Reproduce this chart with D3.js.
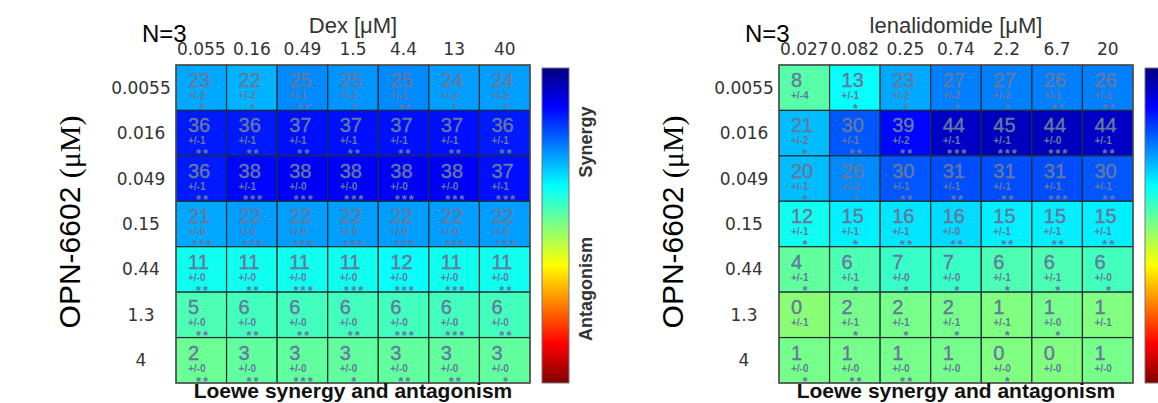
<!DOCTYPE html>
<html>
<head>
<meta charset="utf-8">
<script src="https://cdn.jsdelivr.net/npm/d3@7"></script>
<style>
  body { margin: 0; background: #fff; }
  svg { display: block; font-family: "Liberation Sans", Arial, sans-serif; }
</style>
</head>
<body>
<div class="chart"></div>
<script>
const WIDTH = 1158;
const HEIGHT = 403;

// row doses (shared)
const OPN_DOSES = ["0.0055", "0.016", "0.049", "0.15", "0.44", "1.3", "4"];

// left panel: Dex
const DEX_DOSES = ["0.055", "0.16", "0.49", "1.5", "4.4", "13", "40"];
const DEX_SCORES = [
  [23, 22, 25, 25, 25, 24, 24],
  [36, 36, 37, 37, 37, 37, 36],
  [36, 38, 38, 38, 38, 38, 37],
  [21, 22, 22, 22, 22, 22, 22],
  [11, 11, 11, 11, 12, 11, 11],
  [5, 6, 6, 6, 6, 6, 6],
  [2, 3, 3, 3, 3, 3, 3]
];
const DEX_ERR = [
  [2, 2, 1, 2, 1, 2, 2],
  [1, 1, 1, 1, 1, 1, 1],
  [1, 1, 0, 0, 0, 0, 1],
  [0, 0, 0, 0, 0, 0, 0],
  [0, 0, 0, 0, 0, 0, 0],
  [0, 0, 0, 0, 0, 0, 0],
  [0, 0, 0, 0, 0, 0, 0]
];
const DEX_STARS = [
  [1, 1, 2, 1, 2, 1, 1],
  [2, 2, 2, 2, 2, 2, 2],
  [2, 3, 3, 3, 3, 3, 3],
  [3, 3, 3, 3, 3, 3, 3],
  [2, 2, 3, 3, 3, 3, 2],
  [2, 2, 2, 2, 3, 3, 2],
  [2, 2, 3, 1, 2, 2, 1]
];

// right panel: lenalidomide
const LEN_DOSES = ["0.027", "0.082", "0.25", "0.74", "2.2", "6.7", "20"];
const LEN_SCORES = [
  [8, 13, 23, 27, 27, 26, 26],
  [21, 30, 39, 44, 45, 44, 44],
  [20, 26, 30, 31, 31, 31, 30],
  [12, 15, 16, 16, 15, 15, 15],
  [4, 6, 7, 7, 6, 6, 6],
  [0, 2, 2, 2, 1, 1, 1],
  [1, 1, 1, 1, 0, 0, 1]
];
const LEN_ERR = [
  [4, 1, 2, 2, 2, 1, 1],
  [2, 1, 2, 1, 1, 0, 1],
  [1, 2, 1, 1, 1, 1, 1],
  [1, 1, 1, 0, 1, 1, 1],
  [1, 1, 0, 0, 1, 1, 0],
  [1, 1, 1, 1, 1, 0, 1],
  [0, 0, 0, 0, 0, 0, 0]
];
const LEN_STARS = [
  [0, 1, 1, 1, 1, 2, 2],
  [1, 2, 2, 3, 3, 3, 2],
  [1, 1, 2, 2, 2, 3, 2],
  [1, 1, 2, 2, 2, 2, 2],
  [1, 1, 1, 1, 1, 1, 1],
  [0, 1, 1, 1, 1, 1, 0],
  [1, 2, 2, 0, 1, 0, 0]
];

const COLOR_DOMAIN = [50, 37.5, 12.5, 0, -12.5, -37.5, -50];
const JET = ["#000080", "#0000ff", "#00ffff", "#80ff80", "#ffff00", "#ff0000", "#800000"];
const TEXT_COLOR = "#66789e";
const TICK_FONT = "DejaVu Sans, Verdana, sans-serif";

const svg = d3.select(".chart").append("svg")
  .attr("width", WIDTH)
  .attr("height", HEIGHT);

const COLOR = d3.scaleLinear().domain(COLOR_DOMAIN).range(JET).clamp(true);

// gradient for the colour bars
const grad = svg.append("defs").append("linearGradient")
  .attr("id", "jet")
  .attr("x1", 0).attr("y1", 0).attr("x2", 0).attr("y2", 1);
grad.selectAll("stop")
  .data(COLOR_DOMAIN)
  .enter().append("stop")
    .attr("offset", d => (50 - d) / 100)
    .attr("stop-color", d => COLOR(d));

function drawPanel(left, drug, doses, scores, errs, stars) {
  const top = 65, w = 354, h = 318;
  const g = svg.append("g");

  const X = d3.scaleBand().domain(doses).range([left, left + w]);
  const Y = d3.scaleBand().domain(OPN_DOSES).range([top, top + h]);

  const cells = [];
  OPN_DOSES.forEach((r, i) => doses.forEach((c, j) => {
    cells.push({row: r, col: c, v: scores[i][j], e: errs[i][j], s: stars[i][j]});
  }));

  g.selectAll("rect.cell")
    .data(cells)
    .enter().append("rect")
      .attr("class", "cell")
      .attr("x", d => X(d.col))
      .attr("y", d => Y(d.row))
      .attr("width", X.bandwidth())
      .attr("height", Y.bandwidth())
      .attr("fill", d => COLOR(d.v - d.e))
      .attr("stroke", "#1e2e30")
      .attr("stroke-width", 1.2);

  g.selectAll("text.val")
    .data(cells)
    .enter().append("text")
      .attr("x", d => X(d.col) + 12)
      .attr("y", d => Y(d.row) + 22)
      .attr("font-size", 20)
      .attr("fill", TEXT_COLOR)
      .attr("stroke", TEXT_COLOR)
      .attr("stroke-width", 0.4)
      .text(d => d.v);

  g.selectAll("text.err")
    .data(cells)
    .enter().append("text")
      .attr("x", d => X(d.col) + 12)
      .attr("y", d => Y(d.row) + 34)
      .attr("font-size", 10)
      .attr("font-weight", "bold")
      .attr("fill", TEXT_COLOR)
      .text(d => "+/-" + d.e);

  g.selectAll("text.star")
    .data(cells.filter(d => d.s > 0))
    .enter().append("text")
      .attr("x", d => X(d.col) + 27)
      .attr("y", d => Y(d.row) + 48)
      .attr("font-size", 13)
      .attr("font-weight", "bold")
      .attr("letter-spacing", 2)
      .attr("text-anchor", "middle")
      .attr("fill", TEXT_COLOR)
      .text(d => "*".repeat(d.s));

  // outer frame
  g.append("rect")
    .attr("x", left).attr("y", top)
    .attr("width", w).attr("height", h)
    .attr("fill", "none")
    .attr("stroke", "#555")
    .attr("stroke-width", 1.2);

  // column dose labels
  g.selectAll("text.col")
    .data(doses)
    .enter().append("text")
      .attr("x", d => X(d) + X.bandwidth() / 2)
      .attr("y", 55)
      .attr("font-family", TICK_FONT)
      .attr("font-size", 17)
      .attr("text-anchor", "middle")
      .attr("fill", "#333")
      .text(d => d);

  // row dose labels
  g.selectAll("text.row")
    .data(OPN_DOSES)
    .enter().append("text")
      .attr("x", left - 35)
      .attr("y", d => Y(d) + Y.bandwidth() / 2 + 6)
      .attr("font-family", TICK_FONT)
      .attr("font-size", 17)
      .attr("text-anchor", "middle")
      .attr("fill", "#333")
      .text(d => d);

  g.append("text")
    .attr("x", left + w / 2).attr("y", 33)
    .attr("font-size", 22)
    .attr("text-anchor", "middle")
    .attr("fill", "#333")
    .text(drug + " [μM]");

  g.append("text")
    .attr("x", left - 34).attr("y", 42)
    .attr("font-size", 24)
    .attr("fill", "#000")
    .text("N=3");

  const yl = g.append("text")
    .attr("transform", "translate(" + (left - 96) + ",222) rotate(-90)")
    .attr("font-size", 30)
    .attr("text-anchor", "middle")
    .attr("fill", "#000");
  yl.append("tspan").text("OPN-6602 ");
  yl.append("tspan").attr("font-family", "Liberation Serif, Times New Roman, serif").text("(μM)");

  g.append("text")
    .attr("x", left + w / 2).attr("y", 398)
    .attr("font-size", 21)
    .attr("font-weight", "bold")
    .attr("text-anchor", "middle")
    .attr("fill", "#111")
    .text("Loewe synergy and antagonism");

  // colour bar
  const cbX = left + w + 12;
  g.append("rect")
    .attr("x", cbX).attr("y", 68)
    .attr("width", 27).attr("height", 315)
    .attr("fill", "url(#jet)")
    .attr("stroke", "#777")
    .attr("stroke-width", 1);

  [["Synergy", 142], ["Antagonism", 289]].forEach(([t, cy]) => {
    g.append("text")
      .attr("transform", "translate(" + (cbX + 50) + "," + cy + ") rotate(-90)")
      .attr("font-size", 18)
      .attr("font-weight", "bold")
      .attr("text-anchor", "middle")
      .attr("fill", "#333")
      .text(t);
  });
}

drawPanel(176, "Dex", DEX_DOSES, DEX_SCORES, DEX_ERR, DEX_STARS);
drawPanel(779, "lenalidomide", LEN_DOSES, LEN_SCORES, LEN_ERR, LEN_STARS);
</script>
</body>
</html>
